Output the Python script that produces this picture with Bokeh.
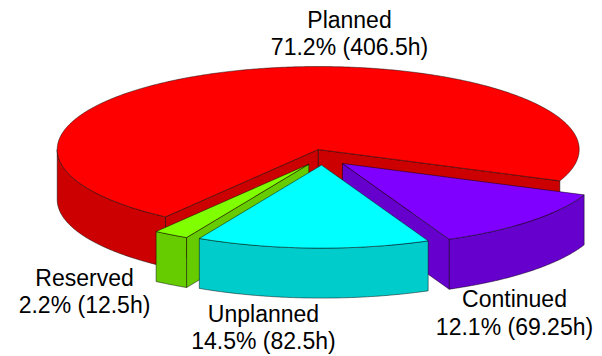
import numpy as np
from bokeh.plotting import figure
from bokeh.models import Range1d, ColumnDataSource
from bokeh.embed import file_html
from bokeh.resources import INLINE
from bokeh.core.properties import value

# ---- data ----
categories = ["Planned", "Reserved", "Unplanned", "Continued"]
hours = [406.5, 12.5, 82.5, 69.25]

# ---- styles ----
top_colors = ["#FF0000", "#80FF00", "#00FFFF", "#8000FF"]
side_colors = ["#CC0000", "#66CC00", "#00CCCC", "#6600CC"]

# ---- layout (pixel space) ----
W, H = 602, 356
CX, CY = 320.0, 157.0      # pie centre
RX, RY = 261.0, 83.0       # ellipse radii
DEPTH = 50.0               # pie thickness
START = -22.2              # start angle (deg)
EXPLODE = [(-2.3, -8.0), (-11.7, 6.7), (1.0, 7.6), (22.0, 6.0)]
DRAW_ORDER = [0, 3, 1, 2]
LABEL_ANCHORS = [(349, 19, 46), (84, 277, 304), (263, 313, 340), (514, 298, 326)]
FONT = "Liberation Sans"
FONT_SIZE = "23px"

total = sum(hours)
fracs = [h / total for h in hours]
starts, ends = [], []
a = START
for f in fracs:
    starts.append(a)
    a += f * 360.0
    ends.append(a)


def pt(cx, cy, t):
    r = np.radians(t)
    return cx + RX * np.cos(r), cy - RY * np.sin(r)


def arc(cx, cy, t1, t2, n=None):
    if n is None:
        n = max(4, int(abs(t2 - t1) * 2))
    ts = np.radians(np.linspace(t1, t2, n))
    return list(cx + RX * np.cos(ts)), list(cy - RY * np.sin(ts))


xs, ys, fills = [], [], []
for i in DRAW_ORDER:
    s, e = starts[i], ends[i]
    cx, cy = CX + EXPLODE[i][0], CY + EXPLODE[i][1]
    # outer front wall
    w1, w2 = max(s, 180.0), min(e, 360.0)
    if w2 > w1:
        ax, ay = arc(cx, cy, w1, w2)
        bx, by = ax[::-1], [v + DEPTH for v in ay[::-1]]
        xs.append(ax + bx)
        ys.append(ay + by)
        fills.append(side_colors[i])
    # radial faces
    for t, vis in ((s, np.cos(np.radians(s)) > 0), (e, np.cos(np.radians(e)) < 0)):
        if vis:
            px, py = pt(cx, cy, t)
            xs.append([cx, px, px, cx])
            ys.append([cy, py, py + DEPTH, cy + DEPTH])
            fills.append(side_colors[i])
    # top
    ax, ay = arc(cx, cy, s, e)
    xs.append([cx] + ax)
    ys.append([cy] + ay)
    fills.append(top_colors[i])

p = figure(width=W, height=H, x_range=Range1d(0, W), y_range=Range1d(H, 0),
           output_backend="svg", toolbar_location=None, min_border=0)
p.axis.visible = False
p.grid.visible = False
p.outline_line_color = None
p.background_fill_color = "white"
p.border_fill_color = "white"

p.patches(xs="xs", ys="ys", fill_color="fill",
          source=ColumnDataSource(dict(xs=xs, ys=ys, fill=fills)),
          line_color="#000000", line_width=0.6, line_alpha=0.8)

l1x, l1y, l1t, l2y, l2t = [], [], [], [], []
for i, c in enumerate(categories):
    x, b1, b2 = LABEL_ANCHORS[i]
    l1x.append(x); l1y.append(b1); l1t.append(c)
    l2y.append(b2); l2t.append(f"{fracs[i]*100:.1f}% ({hours[i]:g}h)")

for yy, tt in ((l1y, l1t), (l2y, l2t)):
    p.text(x=l1x, y=yy, text=tt, text_align="center", text_baseline="alphabetic",
           text_font=value(FONT), text_font_size=FONT_SIZE, text_color="#000000")

open("out.html", "w").write(file_html(p, INLINE))
